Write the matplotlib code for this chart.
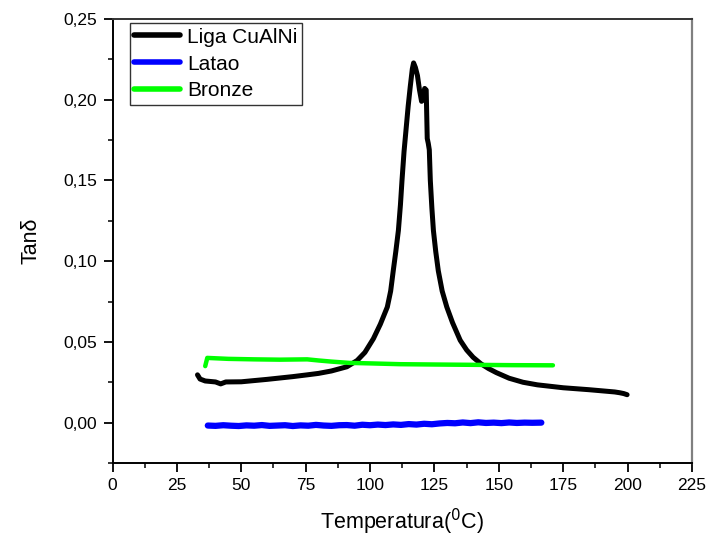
import matplotlib
matplotlib.use("Agg")
import matplotlib.pyplot as plt
from matplotlib.ticker import MultipleLocator, FuncFormatter

plt.rcParams['font.family'] = ['Liberation Sans', 'DejaVu Sans']

# Liga CuAlNi
cu_T = [33, 34, 36, 40, 42, 44, 50, 60, 70, 75.6, 80, 85, 91, 95, 98, 101.3, 104, 106.7,
        108, 109, 110, 111, 111.8, 112.4, 113.2, 114, 114.8, 115.6, 116.4, 116.9, 117.6, 118.4,
        119.2, 120.0, 120.6, 121.2, 121.8, 122.2, 122.6, 123.0, 123.4, 124.0, 124.6, 125.5,
        126.5, 128, 129.8, 132, 135, 137.5, 140, 143, 146, 149, 154, 159.4, 165, 170, 175,
        180, 185, 190, 195, 197, 198.5, 199.8]
cu_V = [0.0296, 0.0270, 0.0258, 0.0252, 0.0240, 0.0252, 0.0253, 0.0268, 0.0285, 0.0296,
        0.0305, 0.0320, 0.0346, 0.0385, 0.0435, 0.0520, 0.0610, 0.0716,
        0.0815, 0.0940, 0.1060, 0.1190, 0.1350, 0.1500, 0.1680, 0.1820, 0.1960, 0.2080,
        0.2190, 0.2228, 0.2200, 0.2150, 0.2060, 0.1990, 0.2000, 0.2070, 0.2060, 0.1760,
        0.1730, 0.1690, 0.1500, 0.1330, 0.1190, 0.1060, 0.0940, 0.0815, 0.0716, 0.0620,
        0.0510, 0.0450, 0.0405, 0.0365, 0.0335, 0.0310, 0.0275, 0.0250, 0.0234, 0.0225,
        0.0216, 0.0210, 0.0204, 0.0197, 0.0190, 0.0185, 0.0180, 0.0173]

# Latao
la_T = [37, 40, 43, 46, 49, 52, 55, 58, 61, 64, 67, 70, 73, 76, 79, 82, 85, 88, 91, 94, 97,
        100, 103, 106, 109, 112, 115, 118, 121, 124, 127, 130, 133, 136, 139, 142, 145, 148,
        151, 154, 157, 160, 163, 166.5]
la_V = [-0.0018, -0.0020, -0.0016, -0.0019, -0.0021, -0.0017, -0.0019, -0.0015, -0.0020,
        -0.0018, -0.0016, -0.0021, -0.0017, -0.0019, -0.0014, -0.0018, -0.0020, -0.0016,
        -0.0015, -0.0019, -0.0013, -0.0016, -0.0012, -0.0015, -0.0011, -0.0014, -0.0009,
        -0.0012, -0.0007, -0.0010, -0.0005, -0.0002, -0.0004, 0.0001, -0.0003, 0.0002,
        -0.0002, 0.0000, -0.0003, 0.0001, -0.0002, 0.0000, -0.0001, 0.0000]

# Bronze
br_T = [36, 36.8, 38, 45, 55, 65, 75.6, 80, 85, 92, 100, 111.7, 125, 140, 155, 171]
br_V = [0.0350, 0.0401, 0.0400, 0.0395, 0.0392, 0.0390, 0.0392, 0.0385, 0.0378, 0.0370,
        0.0367, 0.0362, 0.0360, 0.0358, 0.0356, 0.0355]

xticks = [0, 25, 50, 75, 100, 125, 150, 175, 200, 225]
yticks = [0.00, 0.05, 0.10, 0.15, 0.20, 0.25]

fig = plt.figure(figsize=(7.10, 5.37), dpi=100)
ax = fig.add_axes([112.5/710, 1-463/537, (692-112.5)/710, (463-19)/537])

ax.plot(cu_T, cu_V, color='black', lw=3.6, label='Liga CuAlNi', solid_capstyle='round', solid_joinstyle='round')
ax.plot(la_T, la_V, color='#0000ff', lw=4.5, label='Latao', solid_capstyle='round')
ax.plot(br_T, br_V, color='#00ff00', lw=3.2, label='Bronze', solid_capstyle='round')

ax.set_xlim(0, 225)
ax.set_ylim(-0.025, 0.25)
ax.set_xticks(xticks)
ax.set_yticks(yticks)
ax.xaxis.set_minor_locator(MultipleLocator(12.5))
ax.yaxis.set_minor_locator(MultipleLocator(0.025))
ax.yaxis.set_major_formatter(FuncFormatter(lambda v, p: f"{v:.2f}".replace('.', ',').replace('-0,00', '0,00')))
ax.tick_params(which='major', direction='out', length=6.5, width=1.3, labelsize=12.5, pad=4.5,
               top=False, right=False)
ax.tick_params(which='minor', direction='out', length=3.5, width=1.1, top=False, right=False)
for s in ['left', 'bottom']:
    ax.spines[s].set_linewidth(1.4)
    ax.spines[s].set_color('black')
ax.spines['top'].set_linewidth(1.4)
ax.spines['top'].set_color('#333333')
ax.spines['right'].set_linewidth(1.6)
ax.spines['right'].set_color('#808080')

ax.set_xlabel('Temperatura($^0$C)', fontsize=15.5, labelpad=10)
ax.set_ylabel('Tan\u03b4', fontsize=15.5, labelpad=16)

leg = ax.legend(loc='upper left', bbox_to_anchor=(0.030, 0.99), fontsize=15, frameon=True,
                fancybox=False, edgecolor='black', handlelength=2.2, handletextpad=0.35,
                labelspacing=0.38, borderpad=0.2, borderaxespad=0.0)
leg.get_frame().set_linewidth(1.0)
for line in leg.get_lines():
    line.set_linewidth(4.0)

fig.savefig('out.png', dpi=100)
